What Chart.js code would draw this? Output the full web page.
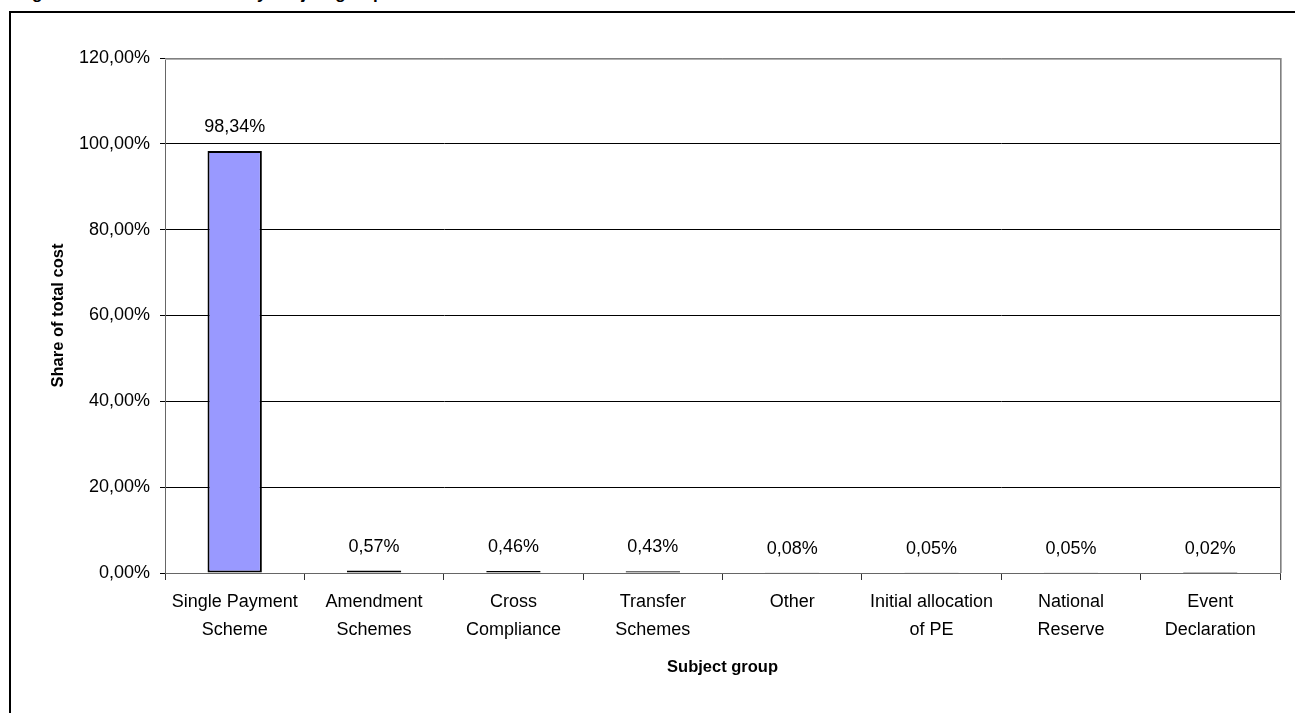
<!DOCTYPE html>
<html>
<head>
<meta charset="utf-8">
<script src="https://cdn.jsdelivr.net/npm/chart.js@4.4.1/dist/chart.umd.min.js"></script>
<style>
  html, body { margin: 0; padding: 0; background: #fff; overflow: hidden; }
  #wrap { position: relative; width: 1295px; height: 713px; overflow: hidden; }
  #caption {
    position: absolute; left: 17px; top: -16px; white-space: nowrap;
    font: bold 17px "Liberation Sans", Arial, sans-serif; color: #000;
  }
  #frame {
    position: absolute; left: 9px; top: 11px; width: 1300px; height: 720px;
    border: 2px solid #000; background: #fff;
  }
  #myChart { position: absolute; left: 0; top: 0; }
</style>
</head>
<body>
<div id="wrap">
  <div id="caption">Figure 5: Share of total cost by subject group</div>
  <div id="frame"></div>
  <canvas id="myChart" width="1295" height="713"></canvas>
</div>
<script>
var categories = [
  ["Single Payment", "Scheme"],
  ["Amendment", "Schemes"],
  ["Cross", "Compliance"],
  ["Transfer", "Schemes"],
  ["Other"],
  ["Initial allocation", "of PE"],
  ["National", "Reserve"],
  ["Event", "Declaration"]
];
var shares = [98.34, 0.57, 0.46, 0.43, 0.08, 0.05, 0.05, 0.02];
var yTicks = [0, 20, 40, 60, 80, 100, 120];

var fontFamily = '"Liberation Sans", Arial, sans-serif';

function pct(v) {
  return v.toFixed(2).replace('.', ',') + '%';
}

// values over each bar
var barLabels = {
  id: 'barLabels',
  afterDatasetsDraw: function(chart) {
    var ctx = chart.ctx;
    var meta = chart.getDatasetMeta(0);
    ctx.save();
    ctx.font = '18px ' + fontFamily;
    ctx.fillStyle = '#000';
    ctx.textAlign = 'center';
    ctx.textBaseline = 'middle';
    meta.data.forEach(function(bar, i) {
      ctx.fillText(pct(shares[i]), bar.x, bar.y - 24);
    });
    ctx.restore();
  }
};

// gray border on top and right of the plot area
var plotBorder = {
  id: 'plotBorder',
  afterDraw: function(chart) {
    var a = chart.chartArea;
    var ctx = chart.ctx;
    ctx.save();
    ctx.strokeStyle = '#b0b0b0';
    ctx.lineWidth = 2;
    ctx.beginPath();
    ctx.moveTo(a.left, a.top + 1);
    ctx.lineTo(a.right + 1, a.top + 1);
    ctx.lineTo(a.right + 1, a.bottom);
    ctx.stroke();
    ctx.strokeStyle = '#808080';
    ctx.lineWidth = 1;
    ctx.beginPath();
    ctx.moveTo(a.left, a.top + 0.5);
    ctx.lineTo(a.right + 0.5, a.top + 0.5);
    ctx.lineTo(a.right + 0.5, a.bottom);
    ctx.stroke();
    ctx.restore();
  }
};

var ctx = document.getElementById("myChart").getContext("2d");
var mychart = new Chart(ctx, {
  type: "bar",
  data: {
    labels: categories,
    datasets: [{
      data: shares,
      backgroundColor: "#9999ff",
      borderColor: "#000",
      borderWidth: 2,
      borderSkipped: false,
      barPercentage: 0.39,
      categoryPercentage: 1
    }]
  },
  options: {
    responsive: false,
    animation: false,
    layout: { padding: { left: 9, top: 58, right: 15, bottom: 0 } },
    plugins: {
      legend: { display: false },
      tooltip: { enabled: false }
    },
    scales: {
      x: {
        afterFit: function(scale) { scale.height = 140; },
        grid: {
          offset: true,
          drawOnChartArea: false,
          drawTicks: true,
          tickLength: 7,
          color: "#333"
        },
        border: { color: "#666", width: 1 },
        ticks: {
          color: "#000",
          padding: 8,
          font: { size: 18, family: fontFamily, lineHeight: 1.56 },
          maxRotation: 0,
          autoSkip: false
        },
        title: {
          display: true,
          text: "Subject group",
          color: "#000",
          font: { size: 16.5, weight: "bold", family: fontFamily },
          padding: { top: 0, bottom: 36 }
        }
      },
      y: {
        min: 0,
        max: 120,
        afterFit: function(scale) { scale.width = 156; },
        afterBuildTicks: function(scale) {
          scale.ticks = yTicks.map(function(v) { return { value: v }; });
        },
        grid: {
          color: function(c) { return c.tick && c.tick.value === 120 ? "#999" : "#000"; },
          tickColor: "#000",
          tickLength: 5,
          lineWidth: 1
        },
        border: { color: "#666", width: 1 },
        ticks: {
          color: "#000",
          padding: 10,
          font: { size: 18, family: fontFamily },
          callback: function(v) { return pct(v); }
        },
        title: {
          display: true,
          text: "Share of total cost",
          color: "#000",
          font: { size: 16.5, weight: "bold", family: fontFamily },
          padding: { top: 40, bottom: 0 }
        }
      }
    }
  },
  plugins: [barLabels, plotBorder]
});
</script>
</body>
</html>
